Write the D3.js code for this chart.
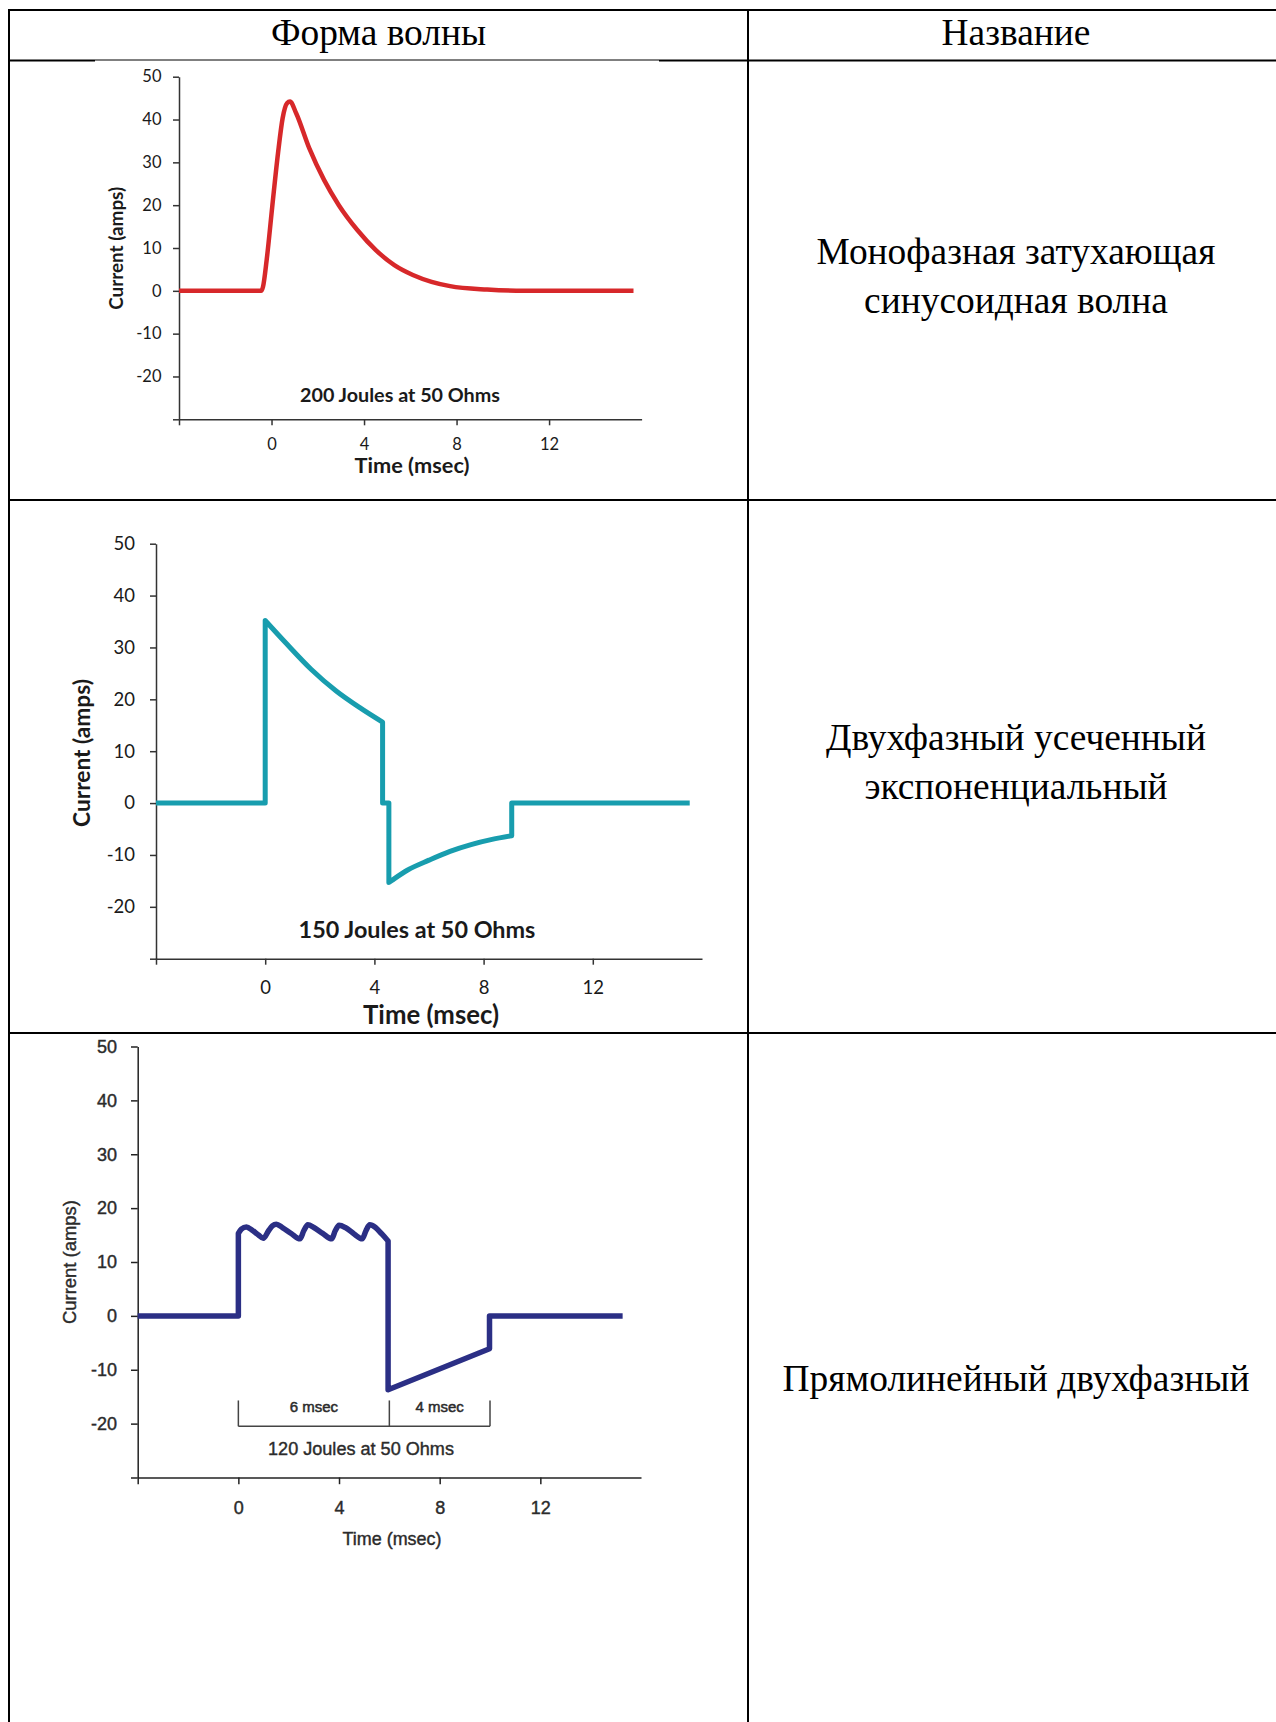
<!DOCTYPE html>
<html><head><meta charset="utf-8">
<script src="https://cdn.jsdelivr.net/npm/d3@7"></script>
<style>html,body{margin:0;padding:0;background:#fff;} svg{display:block;}</style>
</head><body>
<svg id="c" width="1276" height="1722"></svg>
<script>
// ---------------- data ----------------
const headers = ["Форма волны", "Название"];
const waveNames = [
  ["Монофазная затухающая", "синусоидная волна"],
  ["Двухфазный усеченный", "экспоненциальный"],
  ["Прямолинейный двухфазный"]
];
const xTicks = [-4, 0, 4, 8, 12];
const xTickLabels = ["", "0", "4", "8", "12"];
const yTicks = [-30, -20, -10, 0, 10, 20, 30, 40, 50];
const yTickLabels = ["", "-20", "-10", "0", "10", "20", "30", "40", "50"];
const xTitle = "Time (msec)";
const yTitle = "Current (amps)";
const energyLabels = ["200 Joules at 50 Ohms", "150 Joules at 50 Ohms", "120 Joules at 50 Ohms"];

// monophasic damped sine
const monoTime    = [-4, -0.45, -0.37, -0.21, 0.03, 0.28, 0.48, 0.67, 0.8, 1.07, 1.63, 2.27, 2.91, 3.71, 4.51, 5.31, 6.11, 6.92, 7.72, 9.32, 10.92, 12.5, 15.65];
const monoCurrent = [0, 0, 0.9, 7.2, 19.6, 32.1, 40.3, 43.8, 44.2, 41.4, 33.3, 25.9, 20.0, 14.2, 9.5, 6.0, 3.7, 2.1, 1.1, 0.3, 0, 0, 0];

// biphasic truncated exponential (equal times = vertical jumps)
const bteTime    = [-4, 0, 0, 0.75, 1.68, 2.6, 3.52, 4.3, 4.3, 4.53, 4.53, 4.64, 5.22, 6.0, 6.77, 7.54, 8.31, 9.03, 9.03, 15.55];
const bteCurrent = [0, 0, 35.2, 30.9, 25.8, 21.6, 18.2, 15.6, 0, 0, -15.3, -14.9, -12.9, -11.0, -9.3, -8.0, -7.0, -6.3, 0, 0];

// rectilinear biphasic
const rbTime    = [-4, 0, 0, 0.12, 0.32, 0.55, 0.8, 0.99, 1.2, 1.35, 1.51, 1.75, 2.1, 2.45, 2.6, 2.76, 3.0, 3.35, 3.71, 3.85, 4.0, 4.25, 4.6, 4.92, 5.07, 5.22, 5.45, 5.7, 5.95, 5.95, 9.98, 9.98, 15.27];
const rbCurrent = [0, 0, 15.3, 16.1, 16.5, 15.9, 15.0, 14.4, 15.8, 16.7, 17.0, 16.4, 15.3, 14.3, 15.8, 16.9, 16.4, 15.3, 14.3, 15.8, 16.8, 16.4, 15.2, 14.3, 15.8, 16.9, 16.4, 15.2, 13.9, -13.7, -6.1, 0, 0];

const phaseBounds = [0, 6, 10];
const phaseLabels = ["6 msec", "4 msec"];
const phaseLabelTimes = [3, 8];
const bracketLevels = [-15.7, -20.5];

// ---------------- drawing ----------------
const svg = d3.select("#c");
svg.append("rect").attr("width", 1276).attr("height", 1722).attr("fill", "#fff");

// table grid
const grid = svg.append("g").attr("stroke", "#000").attr("stroke-width", 2).attr("fill", "none");
grid.append("line").attr("x1", 8).attr("x2", 1276).attr("y1", 10).attr("y2", 10);
grid.append("line").attr("x1", 9).attr("x2", 9).attr("y1", 9).attr("y2", 1722);
grid.append("line").attr("x1", 748).attr("x2", 748).attr("y1", 9).attr("y2", 1722);
grid.append("line").attr("x1", 8).attr("x2", 95).attr("y1", 60.5).attr("y2", 60.5);
grid.append("line").attr("x1", 95).attr("x2", 659).attr("y1", 60).attr("y2", 60).attr("stroke-width", 1);
grid.append("line").attr("x1", 659).attr("x2", 1276).attr("y1", 60.5).attr("y2", 60.5);
grid.append("line").attr("x1", 8).attr("x2", 1276).attr("y1", 500).attr("y2", 500);
grid.append("line").attr("x1", 8).attr("x2", 1276).attr("y1", 1033).attr("y2", 1033);

// table text
const tt = svg.append("g").attr("font-family", "'Liberation Serif','Times New Roman',serif")
  .attr("fill", "#000").attr("text-anchor", "middle");
const probe = tt.append("text").attr("font-size", 30).text(waveNames[2][0]);
const serifFs = 30 * 467 / probe.node().getComputedTextLength();
probe.remove();
tt.attr("font-size", serifFs);
tt.append("text").attr("x", 378.5).attr("y", 45).text(headers[0]);
tt.append("text").attr("x", 1016).attr("y", 45).text(headers[1]);
const nameBaselines = [[264, 313], [750, 799], [1391]];
waveNames.forEach((lines, r) => lines.forEach((s, k) =>
  tt.append("text").attr("x", 1016).attr("y", nameBaselines[r][k]).text(s)));

function fitWidth(sel, target) {
  const w = sel.node().getComputedTextLength();
  const fs = parseFloat(sel.attr("font-size"));
  sel.attr("font-size", fs * target / w);
}

function buildPath(x, y, ts, cs) {
  const pts = ts.map((t, i) => [x(t), y(cs[i])]);
  const pieces = []; let cur = [pts[0]];
  for (let i = 1; i < pts.length; i++) {
    if (ts[i] === ts[i - 1]) { pieces.push(cur); pieces.push([pts[i - 1], pts[i]]); cur = [pts[i]]; }
    else cur.push(pts[i]);
  }
  pieces.push(cur);
  const gen = d3.line().curve(d3.curveMonotoneX);
  let d = "";
  pieces.forEach(p => {
    if (p.length < 2) return;
    let s = gen(p);
    if (d) s = s.replace(/^M[^A-Za-z]*/, "");
    d += s;
  });
  return d;
}

function drawPanel(cfg, ts, cs, energy) {
  const g = svg.append("g");
  const x = d3.scaleLinear().domain([-4, 16]).range([cfg.x0, cfg.x1]);
  const y = d3.scaleLinear().domain([-30, 50]).range([cfg.yBot, cfg.yTop]);

  const ya = g.append("g").attr("transform", `translate(${cfg.x0},0)`)
    .call(d3.axisLeft(y).tickValues(yTicks).tickFormat((d, i) => yTickLabels[i])
      .tickSize(cfg.tick).tickSizeOuter(0).tickPadding(cfg.yPad));
  const xa = g.append("g").attr("transform", `translate(0,${cfg.yBot})`)
    .call(d3.axisBottom(x).tickValues(xTicks).tickFormat((d, i) => xTickLabels[i])
      .tickSize(cfg.tick).tickSizeOuter(0).tickPadding(cfg.xPad));
  [ya, xa].forEach(a => {
    a.attr("font-family", cfg.font).attr("font-size", cfg.tickFs);
    a.select(".domain").attr("stroke", cfg.axisColor).attr("stroke-width", cfg.axisW);
    a.selectAll(".tick line").attr("stroke", cfg.axisColor).attr("stroke-width", cfg.axisW);
    a.selectAll(".tick text").attr("fill", cfg.textColor)
      .attr("stroke", cfg.textStroke ? cfg.textColor : null).attr("stroke-width", cfg.textStroke || null);
  });

  g.append("path").attr("d", buildPath(x, y, ts, cs))
    .attr("fill", "none").attr("stroke", cfg.color).attr("stroke-width", cfg.lw)
    .attr("stroke-linejoin", "round");

  const txt = [];
  const xt = g.append("text").attr("x", cfg.xTitle[0]).attr("y", cfg.xTitle[1])
    .attr("text-anchor", "middle").text(xTitle);
  const yt = g.append("text").attr("transform", `translate(${cfg.yTitle[0]},${cfg.yTitle[1]}) rotate(-90)`)
    .attr("text-anchor", "middle").attr("dy", "0.35em").text(yTitle);
  const et = g.append("text").attr("x", cfg.energy[0]).attr("y", cfg.energy[1])
    .attr("text-anchor", "middle").text(energy);
  [[xt, cfg.xTitle[2]], [yt, cfg.yTitle[2]], [et, cfg.energy[2]]].forEach(([s, w]) => {
    s.attr("font-family", cfg.font).attr("font-weight", cfg.titleWeight)
     .attr("font-size", 16).attr("fill", cfg.textColor);
    if (cfg.textStroke) s.attr("stroke", cfg.textColor).attr("stroke-width", cfg.textStroke);
    fitWidth(s, w);
  });
  return {g, x, y};
}

const gill = "Lato, 'Open Sans', sans-serif";
drawPanel({x0: 179, x1: 641.6, yTop: 76.7, yBot: 419.3, tick: 6, yPad: 11.5, xPad: 12.5,
  font: gill, tickFs: 16.5, axisColor: "#333", axisW: 1.5, textColor: "#1a1a1a", titleWeight: "bold",
  color: "#d7282a", lw: 4.5,
  xTitle: [412, 472.7, 115], yTitle: [116, 248.3, 123], energy: [400, 401.7, 200]},
  monoTime, monoCurrent, energyLabels[0]);

drawPanel({x0: 156, x1: 702, yTop: 543.7, yBot: 958.7, tick: 6, yPad: 15, xPad: 16,
  font: gill, tickFs: 18.5, axisColor: "#333", axisW: 1.5, textColor: "#1a1a1a", titleWeight: "bold",
  color: "#189dae", lw: 5,
  xTitle: [431, 1024, 136], yTitle: [81.6, 753, 148], energy: [417, 938, 237]},
  bteTime, bteCurrent, energyLabels[1]);

const p3 = drawPanel({x0: 137.7, x1: 641, yTop: 1046.5, yBot: 1477.5, tick: 6.7, yPad: 14, xPad: 17,
  font: "'Liberation Sans', Arial, sans-serif", tickFs: 18, axisColor: "#222", axisW: 1.5, textColor: "#2b2b2b", titleWeight: "normal",
  textStroke: 0.4, color: "#2b2f85", lw: 5.5,
  xTitle: [392, 1545, 99], yTitle: [69.7, 1262, 124], energy: [361, 1455, 186]},
  rbTime, rbCurrent, energyLabels[2]);

// phase bracket
const br = p3.g.append("g").attr("stroke", "#444").attr("stroke-width", 1.5).attr("fill", "none");
phaseBounds.forEach(t => br.append("line").attr("x1", p3.x(t)).attr("x2", p3.x(t))
  .attr("y1", p3.y(bracketLevels[0])).attr("y2", p3.y(bracketLevels[1])));
br.append("line").attr("x1", p3.x(phaseBounds[0])).attr("x2", p3.x(phaseBounds[2]))
  .attr("y1", p3.y(bracketLevels[1])).attr("y2", p3.y(bracketLevels[1]));
phaseLabels.forEach((s, i) => p3.g.append("text").attr("x", p3.x(phaseLabelTimes[i])).attr("y", 1412)
  .attr("text-anchor", "middle").attr("font-family", "'Liberation Sans', Arial, sans-serif")
  .attr("font-size", 15).attr("fill", "#2b2b2b").attr("stroke", "#2b2b2b").attr("stroke-width", 0.5).text(s));
</script>
</body></html>
